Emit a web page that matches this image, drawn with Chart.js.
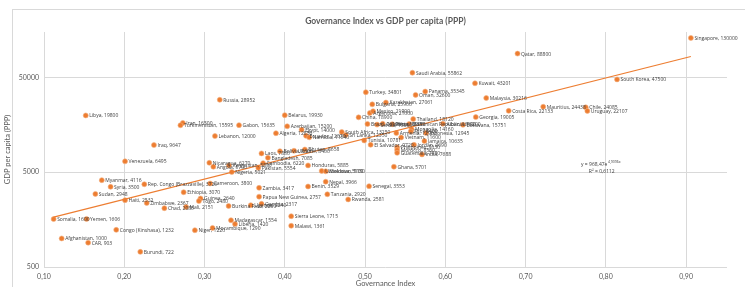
<!DOCTYPE html>
<html>
<head>
<meta charset="utf-8">
<script src="https://cdn.jsdelivr.net/npm/chart.js@4.4.1/dist/chart.umd.min.js"></script>
<style>
  html, body { margin: 0; padding: 0; background: #fff; }
  #wrap { width: 745px; height: 287px; position: relative; }
</style>
</head>
<body>
<div id="wrap"><canvas id="chart" width="745" height="287"></canvas></div>
<script>
// data (one row = 8 countries)
const countries = [
  'Singapore', 'Qatar', 'Saudi Arabia', 'Kuwait', 'South Korea', 'Mauritius', 'Chile', 'Uruguay',
  'Malaysia', 'Costa Rica', 'Georgia', 'Turkey', 'Panama', 'Oman', 'Kazakhstan', 'Libya',
  'Iran', 'Turkmenistan', 'Russia', 'Gabon', 'Belarus', 'Azerbaijan', 'Lebanon', 'Algeria',
  'Iraq', 'Venezuela', 'Myanmar', 'Syria', 'Rep. Congo (Brazzaville)', 'Sudan', 'Haiti', 'Ethiopia',
  'Zimbabwe', 'Chad', 'Mali', 'Somalia', 'Yemen', 'Afghanistan', 'CAR', 'Congo (Kinshasa)',
  'Burundi', 'Niger', 'Mozambique', 'Madagascar', 'Liberia', 'Guinea', 'Togo', 'Cameroon',
  'Burkina Faso', 'Gambia', 'Zambia', 'Papua New Guinea', 'Benin', 'Nepal', 'Senegal', 'Tanzania',
  'Rwanda', 'Sierra Leone', 'Malawi', 'Honduras', 'Pakistan', 'Nigeria', 'Cambodia', 'Bangladesh',
  'Laos', 'Nicaragua', 'Angola', 'Egypt', 'South Africa', 'Sri Lanka', 'Ghana', 'India',
  'Jamaica', 'Thailand', 'China', 'Argentina', 'Mexico', 'Brazil', 'Albania', 'Botswana',
  'Indonesia', 'Tunisia', 'Philippines', 'Morocco', 'Guatemala', 'Jordan', 'Bolivia', 'Ecuador',
  'Bulgaria', 'Serbia', 'Colombia', 'Peru', 'Dominican Republic', 'Mongolia', 'Fiji', 'Armenia',
  'Vietnam', 'El Salvador', 'Ukraine', 'Bhutan', 'Uzbekistan', 'Moldova', 'Kyrgyzstan', 'Uganda',
  'Namibia'
];
const govIndex = [
  0.906, 0.690, 0.559, 0.637, 0.814, 0.722, 0.775, 0.777,
  0.651, 0.679, 0.638, 0.501, 0.575, 0.563, 0.526, 0.152,
  0.273, 0.270, 0.319, 0.343, 0.400, 0.403, 0.313, 0.389,
  0.237, 0.201, 0.172, 0.183, 0.225, 0.164, 0.201, 0.274,
  0.228, 0.250, 0.277, 0.112, 0.153, 0.122, 0.155, 0.190,
  0.220, 0.288, 0.310, 0.333, 0.338, 0.295, 0.293, 0.307,
  0.330, 0.371, 0.368, 0.368, 0.429, 0.451, 0.505, 0.453,
  0.479, 0.408, 0.408, 0.429, 0.367, 0.334, 0.373, 0.379,
  0.371, 0.306, 0.311, 0.421, 0.471, 0.476, 0.536, 0.571,
  0.574, 0.560, 0.492, 0.506, 0.510, 0.503, 0.597, 0.622,
  0.576, 0.499, 0.540, 0.540, 0.540, 0.561, 0.394, 0.4265,
  0.509, 0.515, 0.522, 0.534, 0.555, 0.558, 0.557, 0.539,
  0.545, 0.507, 0.4115, 0.425, 0.446, 0.451, 0.3305, 0.3576,
  0.4305
];
const gdpPerCapita = [
  130000, 88800, 55862, 43201, 47500, 24438, 24085, 22107,
  30216, 22133, 19005, 34801, 35345, 32600, 27061, 19800,
  16500, 15595, 28952, 15635, 19930, 15200, 12000, 12850,
  9647, 6495, 4116, 3500, 3726, 2948, 2532, 3070,
  2367, 2085, 2151, 1600, 1606, 1000, 903, 1232,
  722, 1220, 1290, 1554, 1420, 2640, 2480, 3800,
  2200, 2317, 3417, 2757, 3529, 3966, 3553, 2920,
  2581, 1715, 1361, 5885, 5554, 5021, 6220, 7085,
  7880, 6270, 5700, 14000, 13250, 12350, 5701, 7688,
  10635, 18120, 18900, 21000, 21900, 16100, 16200, 15751,
  12945, 10781, 9150, 8560, 7980, 9690, 8300, 12070,
  25900, 15850, 16150, 16000, 16100, 14160, 13400, 12900,
  11600, 9720, 8400, 8658, 5150, 5100, 5890, 2240,
  11640
];
const xTickValues = [0.1, 0.2, 0.3, 0.4, 0.5, 0.6, 0.7, 0.8, 0.9];
const yTickValues = [500, 5000, 50000];
// exponential trendline as printed on the chart
const trendA = 968.47;
const trendB = 4.9096;
const trendLabel = ['y = 968,47e', '4,9096x', 'R² = 0,6112'];

const points = countries.map((c, i) => ({ x: govIndex[i], y: gdpPerCapita[i] }));
const xMin = Math.min(...govIndex), xMax = Math.max(...govIndex);
const trendPoints = [xMin, xMax].map(x => ({ x: x, y: trendA * Math.exp(trendB * x) }));

const fmtComma = v => v.toFixed(2).replace('.', ',');

const textPlugin = {
  id: 'texts',
  afterDatasetsDraw(chart) {
    const ctx = chart.ctx;
    const meta = chart.getDatasetMeta(1);
    ctx.save();
    ctx.font = '5px "Open Sans", sans-serif';
    ctx.fillStyle = '#404040';
    ctx.textBaseline = 'middle';
    ctx.textAlign = 'left';
    meta.data.forEach((el, i) => {
      ctx.fillText(countries[i] + ', ' + gdpPerCapita[i], el.x + 3.5, el.y + 0.5);
    });
    // trendline equation
    const xs = chart.scales.x, ys = chart.scales.y;
    const ex = xs.getPixelForValue(0.802), ey = ys.getPixelForValue(6050);
    ctx.textAlign = 'right';
    ctx.fillText(trendLabel[0], ex, ey);
    ctx.textAlign = 'left';
    ctx.font = '3.5px "Open Sans", sans-serif';
    ctx.fillText(trendLabel[1], ex + 0.5, ey - 2);
    ctx.font = '5px "Open Sans", sans-serif';
    ctx.textAlign = 'center';
    ctx.fillText(trendLabel[2], xs.getPixelForValue(0.795), ys.getPixelForValue(5100));
    ctx.restore();
  },
  afterDraw(chart) {
    const ctx = chart.ctx;
    const area = chart.chartArea;
    ctx.save();
    ctx.fillStyle = '#595959';
    ctx.textAlign = 'center';
    ctx.textBaseline = 'middle';
    ctx.font = 'bold 8.5px Lato, sans-serif';
    ctx.fillText('Governance Index vs GDP per capita (PPP)', (area.left + area.right) / 2, 21);
    ctx.font = '7.5px Lato, sans-serif';
    ctx.fillText('Governance Index', (area.left + area.right) / 2, 284);
    ctx.translate(8, (area.top + area.bottom) / 2);
    ctx.rotate(-Math.PI / 2);
    ctx.fillText('GDP per capita (PPP)', 0, 0);
    ctx.restore();
  },
  beforeDraw(chart) {
    const ctx = chart.ctx;
    ctx.save();
    ctx.fillStyle = '#fff';
    ctx.fillRect(0, 0, chart.width, chart.height);
    ctx.strokeStyle = '#d9d9d9';
    ctx.lineWidth = 1;
    ctx.strokeRect(12.5, 9.5, 760, 300);
    ctx.restore();
  }
};

new Chart(document.getElementById('chart'), {
  type: 'scatter',
  data: {
    datasets: [
      {
        label: 'Trend',
        data: trendPoints,
        showLine: true,
        borderColor: '#ED7D31',
        borderWidth: 1.2,
        pointRadius: 0,
        fill: false
      },
      {
        label: 'Countries',
        data: points,
        backgroundColor: '#ED7D31',
        borderColor: '#F4B183',
        borderWidth: 0.6,
        pointRadius: 2.5
      }
    ]
  },
  options: {
    responsive: false,
    animation: false,
    layout: { padding: { left: 0, right: 18, top: 32, bottom: 0 } },
    plugins: { legend: { display: false }, tooltip: { enabled: false }, title: { display: false } },
    scales: {
      x: {
        type: 'linear',
        min: 0.1,
        max: 0.951,
        afterBuildTicks: s => { s.ticks = xTickValues.map(v => ({ value: v })); },
        afterFit: s => { s.height = 20; },
        grid: { color: '#d9d9d9', drawTicks: false, lineWidth: 1 },
        border: { display: false },
        ticks: {
          padding: 6,
          color: '#595959',
          font: { family: 'Lato', size: 7 },
          callback: v => fmtComma(v)
        }
      },
      y: {
        type: 'logarithmic',
        min: 500,
        max: 150000,
        afterBuildTicks: s => { s.ticks = yTickValues.map(v => ({ value: v })); },
        afterFit: s => { s.width = 44; },
        grid: { color: '#d9d9d9', drawTicks: false, lineWidth: 1 },
        border: { display: false },
        ticks: {
          padding: 5,
          color: '#595959',
          font: { family: 'Lato', size: 7 },
          callback: v => String(v)
        }
      }
    }
  },
  plugins: [textPlugin]
});
</script>
</body>
</html>
